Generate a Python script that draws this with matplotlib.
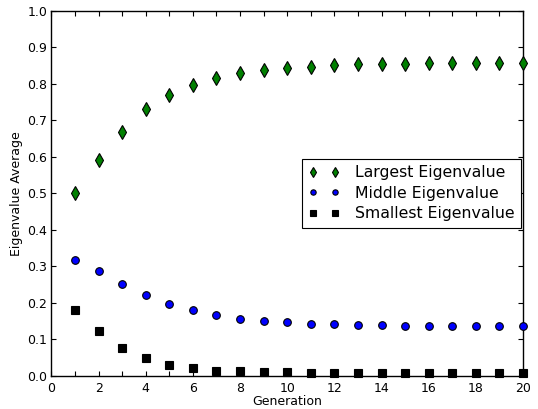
import matplotlib
matplotlib.use("Agg")
import matplotlib.pyplot as plt
from matplotlib.ticker import MultipleLocator, FormatStrFormatter

generation = list(range(1, 21))
largest = [0.501, 0.590, 0.668, 0.730, 0.770, 0.797, 0.815, 0.828, 0.837, 0.843,
           0.847, 0.851, 0.853, 0.854, 0.855, 0.856, 0.856, 0.857, 0.857, 0.857]
middle = [0.318, 0.287, 0.253, 0.222, 0.197, 0.180, 0.167, 0.157, 0.151, 0.147,
          0.143, 0.141, 0.140, 0.139, 0.138, 0.138, 0.137, 0.137, 0.137, 0.137]
smallest = [0.180, 0.123, 0.077, 0.048, 0.031, 0.021, 0.015, 0.013, 0.010, 0.010,
            0.009, 0.008, 0.008, 0.008, 0.008, 0.008, 0.008, 0.008, 0.008, 0.008]
labels = ["Largest Eigenvalue", "Middle Eigenvalue", "Smallest Eigenvalue"]

fig = plt.figure(figsize=(5.38, 4.09), dpi=100)
ax = fig.add_axes([0.0957, 0.0807, 0.972 - 0.0957, 0.974 - 0.0807])

ax.plot(generation, largest, linestyle='none', marker='d', markersize=7.2,
        color=(0, 0.5, 0), markeredgecolor='k', markeredgewidth=0.8, label=labels[0], clip_on=False, zorder=3)
ax.plot(generation, middle, linestyle='none', marker='o', markersize=5.5,
        color=(0, 0, 1), markeredgecolor='k', markeredgewidth=0.8, label=labels[1], clip_on=False, zorder=3)
ax.plot(generation, smallest, linestyle='none', marker='s', markersize=5.3,
        color='k', markeredgecolor='k', markeredgewidth=0.8, label=labels[2], clip_on=False, zorder=3)

ax.set_xlim(0, 20)
ax.set_ylim(0, 1.0)
ax.xaxis.set_major_locator(MultipleLocator(2))
ax.xaxis.set_minor_locator(MultipleLocator(1))
ax.yaxis.set_major_locator(MultipleLocator(0.1))
ax.yaxis.set_major_formatter(FormatStrFormatter('%.1f'))
ax.tick_params(which='both', direction='in', top=True, right=True,
               length=3.5, width=0.8, labelsize=9, pad=3)
ax.tick_params(axis='x', pad=4)
for sp in ax.spines.values():
    sp.set_linewidth(1.0)

ax.set_xlabel("Generation", fontsize=9, labelpad=0)
ax.set_ylabel("Eigenvalue Average", fontsize=9, labelpad=3)

leg = ax.legend(loc='center right', numpoints=2, fontsize=11.3, markerscale=0.7,
                fancybox=False, framealpha=1, edgecolor='k', borderaxespad=0.1,
                handlelength=2.0, handletextpad=1.0, labelspacing=0.35, borderpad=0.4)
leg.get_frame().set_linewidth(0.8)

fig.savefig("out.png", dpi=100)
